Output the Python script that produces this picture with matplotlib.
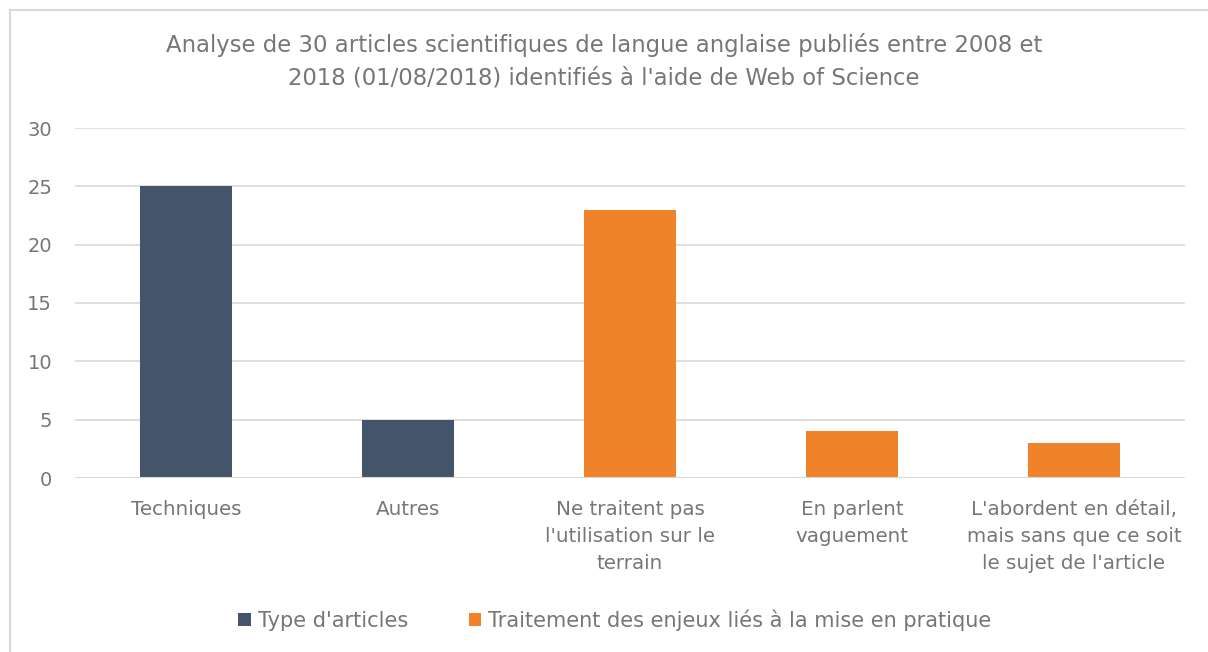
import numpy as np
import matplotlib.pyplot as plt
from matplotlib.patches import Patch
from matplotlib.lines import Line2D

categories = ["Techniques", "Autres",
              "Ne traitent pas\nl'utilisation sur le\nterrain",
              "En parlent\nvaguement",
              "L'abordent en détail,\nmais sans que ce soit\nle sujet de l'article"]
values = [25, 5, 23, 4, 3]
series = [0, 0, 1, 1, 1]
series_names = ["Type d'articles", "Traitement des enjeux liés à la mise en pratique"]
colors = ["#44546A", "#F0822A"]

txt = "#767676"
grid = "#D9D9D9"
plt.rcParams['font.family'] = ['DejaVu Sans']

fig = plt.figure(figsize=(12.08, 6.52), dpi=100)
ax = fig.add_axes([75/1208, 1-478/652, 1110/1208, 350/652])

x = np.arange(len(categories))
ax.bar(x, values, width=0.41, color=[colors[s] for s in series], zorder=3)

ax.set_xlim(-0.5, 4.5)
ax.set_ylim(0, 30)
ax.set_yticks(range(0, 31, 5))
ax.yaxis.grid(True, color=grid, linewidth=1.2, zorder=0)
for s in ax.spines.values():
    s.set_visible(False)
ax.axhline(0, color=grid, linewidth=1.5, zorder=4)
ax.set_xticks(x)
ax.set_xticklabels(categories, fontsize=14.3, color=txt, linespacing=1.55)
ax.tick_params(axis='both', length=0, colors=txt, labelsize=14)
ax.tick_params(axis='x', labelsize=14.3)
ax.tick_params(axis='y', pad=16.5)
ax.tick_params(axis='x', pad=15.5)

fig.text(0.5, 1-61/652, "Analyse de 30 articles scientifiques de langue anglaise publiés entre 2008 et\n"
         "2018 (01/08/2018) identifiés à l'aide de Web of Science",
         ha='center', va='center', fontsize=16.4, color=txt, linespacing=1.55)

handles = [Patch(facecolor=c) for c in colors]
fig.legend(handles, series_names, loc='center', bbox_to_anchor=(615/1208, 1-620/652),
           ncol=2, frameon=False, fontsize=15, labelcolor=txt,
           handlelength=0.6, handleheight=0.6, handletextpad=0.35, columnspacing=2.9)

# chart border (left and top only visible)
fig.add_artist(Line2D([10/1208, 10/1208], [0, 1-10/652], color=grid, linewidth=1.5))
fig.add_artist(Line2D([10/1208, 1], [1-10/652, 1-10/652], color=grid, linewidth=1.5))

fig.savefig("out.png", dpi=100, facecolor='white')
